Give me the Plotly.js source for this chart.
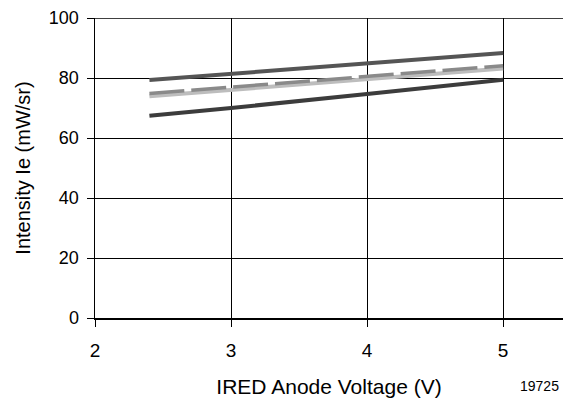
<!DOCTYPE html>
<html><head><meta charset="utf-8">
<script src="https://cdn.plot.ly/plotly-3.0.1.min.js"></script>
<style>html,body{margin:0;padding:0;background:#fff}</style>
</head><body>
<div id="chart" style="width:563px;height:399px"></div>
<script>
const voltage = [2.4, 3, 4, 5];
const seriesTop = [79.3, 81.4, 84.9, 88.3];
const seriesDashed = [74.8, 77.0, 80.5, 84.1];
const seriesLight = [73.9, 76.1, 79.6, 83.2];
const seriesBottom = [67.4, 70.0, 74.7, 79.4];
const xTicks = [2, 3, 4, 5];
const yTicks = [0, 20, 40, 60, 80, 100];

const font = {family: 'Liberation Sans, Arial, sans-serif', color: '#000'};
const traces = [
  {x: voltage, y: seriesTop, mode: 'lines', line: {color: '#555555', width: 4}},
  {x: voltage, y: seriesLight, mode: 'lines', line: {color: '#bdbdbd', width: 4}},
  {x: voltage, y: seriesDashed, mode: 'lines', line: {color: '#8a8a8a', width: 3.5, dash: '35px,7px'}},
  {x: voltage, y: seriesBottom, mode: 'lines', line: {color: '#3c3c3c', width: 4}}
];
const layout = {
  width: 563, height: 399,
  margin: {l: 95, r: 0, t: 18, b: 81},
  showlegend: false,
  paper_bgcolor: '#fff', plot_bgcolor: '#fff',
  font: Object.assign({size: 18}, font),
  xaxis: {
    range: [2, 5.44], tickvals: xTicks, ticktext: xTicks.map(String),
    showgrid: true, gridcolor: '#000', gridwidth: 1,
    showline: true, linecolor: '#000', linewidth: 1.5,
    ticks: 'outside', ticklen: 7, tickcolor: '#000',
    zeroline: false, tickfont: {size: 19}, ticklabelstandoff: 8,
    title: {text: 'IRED Anode Voltage (V)', font: {size: 21}, standoff: 19}
  },
  yaxis: {
    range: [0, 100], tickvals: yTicks, ticktext: yTicks.map(String),
    showgrid: true, gridcolor: '#000', gridwidth: 1,
    showline: true, linecolor: '#000', linewidth: 1.5,
    ticks: 'outside', ticklen: 7, tickcolor: '#000',
    zeroline: false, tickfont: {size: 18}, ticklabelstandoff: 4,
    title: {text: 'Intensity Ie (mW/sr)', font: {size: 20}, standoff: 13}
  },
  shapes: [
    {type: 'line', xref: 'paper', yref: 'y', x0: 0, x1: 1, y0: 100, y1: 100, line: {color: '#000', width: 1.5}}
  ],
  annotations: [
    {text: '19725', xref: 'paper', yref: 'paper', x: 1.0, y: 0, xanchor: 'right', yanchor: 'middle',
     xshift: -2, yshift: -68, showarrow: false, font: {size: 14, color: '#000'}}
  ]
};
Plotly.newPlot('chart', traces, layout, {displayModeBar: false, staticPlot: true});
</script>
</body></html>
